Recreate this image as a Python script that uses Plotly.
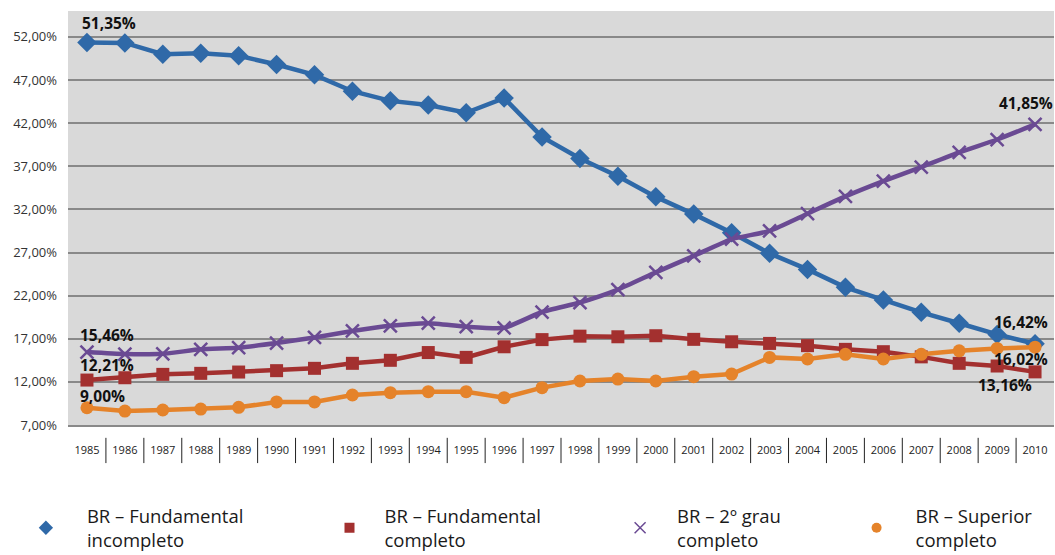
import plotly.graph_objects as go

years = [str(y) for y in range(1985, 2011)]

fund_incompleto = [51.35, 51.30, 50.00, 50.10, 49.80, 48.80, 47.60, 45.70, 44.58, 44.10,
                   43.20, 44.90, 40.40, 37.90, 35.85, 33.45, 31.45, 29.30, 26.90, 25.04,
                   22.96, 21.50, 20.06, 18.80, 17.50, 16.42]
fund_completo = [12.21, 12.48, 12.87, 12.99, 13.14, 13.30, 13.57, 14.15, 14.50, 15.40,
                 14.84, 16.07, 16.90, 17.30, 17.23, 17.35, 16.93, 16.65, 16.46, 16.20,
                 15.77, 15.50, 14.90, 14.15, 13.84, 13.16]
segundo_grau = [15.46, 15.23, 15.26, 15.77, 15.96, 16.50, 17.15, 17.90, 18.50, 18.80,
                18.40, 18.27, 20.10, 21.20, 22.70, 24.70, 26.60, 28.55, 29.50, 31.50,
                33.50, 35.27, 36.90, 38.60, 40.10, 41.85]
superior = [9.00, 8.62, 8.74, 8.85, 9.05, 9.67, 9.67, 10.48, 10.75, 10.86,
            10.86, 10.17, 11.33, 12.10, 12.33, 12.10, 12.60, 12.90, 14.84, 14.65,
            15.20, 14.65, 15.20, 15.60, 15.88, 16.02]

names = ["BR – Fundamental<br>incompleto", "BR – Fundamental<br>completo",
         "BR – 2º grau<br>completo", "BR – Superior<br>completo"]
ytickvals = [7, 12, 17, 22, 27, 32, 37, 42, 47, 52]

BLUE = "#2f69a8"
RED = "#a3302f"
PURPLE = "#6a4a93"
ORANGE = "#e5832a"

PCT = "&#37;"


def fmt(v):
    return f"{v:.2f}".replace(".", ",") + PCT


series = [
    (fund_incompleto, BLUE, "diamond", 15, "linear"),
    (fund_completo, RED, "square", 13, "linear"),
    (segundo_grau, PURPLE, "x-thin-open", 13, "spline"),
    (superior, ORANGE, "circle", 13, "linear"),
]

fig = go.Figure()
for vals, col, sym, sz, shape in series:
    mk = dict(symbol=sym, size=sz, color=col)
    if sym == "x-thin-open":
        mk["line"] = dict(color=col, width=2.5)
    fig.add_trace(go.Scatter(
        x=years, y=vals, mode="lines+markers",
        line=dict(color=col, width=4.5, shape=shape, smoothing=0.5),
        marker=mk, showlegend=False, hoverinfo="x+y"))

# legend-only entries (marker only), each in its own legend
legend_names = ["legend", "legend2", "legend3", "legend4"]
leg_syms = [("diamond", 11), ("square", 10), ("x-thin-open", 11), ("circle", 10)]
for (vals, col, _, _, _), nm, (sym, sz), lg in zip(series, names, leg_syms, legend_names):
    mk = dict(symbol=sym, size=sz, color=col)
    if sym == "x-thin-open":
        mk["line"] = dict(color=col, width=1.5)
    fig.add_trace(go.Scatter(x=[None], y=[None], mode="markers", marker=mk,
                             name=nm, showlegend=True, legend=lg))

label_font = dict(family="Open Sans", size=15.5, color="#111111")
labels = [
    (0, fund_incompleto[0], 22, 19),
    (0, segundo_grau[0], 20, 17),
    (0, fund_completo[0], 20, 15),
    (0, superior[0], 16, 12),
    (25, segundo_grau[25], -9, 21),
    (25, fund_incompleto[25], -14, 22),
    (25, superior[25], -14, -12),
    (25, fund_completo[25], -30, -13),
]
for idx, v, xs, ys in labels:
    fig.add_annotation(x=idx, y=v, xref="x", yref="y", text="<b>" + fmt(v) + "</b>",
                       showarrow=False, xshift=xs, yshift=ys, font=label_font)

# separators between year labels
for i in range(len(years) - 1):
    fig.add_shape(type="line", xref="x", yref="paper", x0=i + 0.5, x1=i + 0.5,
                  y0=-0.031, y1=-0.092, line=dict(color="#222222", width=1))

leg_x = [-0.0640, 0.2500, 0.5427, 0.7805]
leg_iw = [72, 60, 64, 68]
leg_common = dict(orientation="v", yanchor="top", xanchor="left", y=-0.1744,
                  bgcolor="rgba(0,0,0,0)",
                  font=dict(family="Open Sans", size=18.5, color="#1a1a1a"))

fig.update_layout(
    width=1055, height=555,
    margin=dict(l=68, r=1, t=11, b=130, autoexpand=False),
    paper_bgcolor="white", plot_bgcolor="#d9d9d9",
    xaxis=dict(type="category", range=[-0.5, 25.5], showgrid=False, zeroline=False,
               ticks="", ticklabelstandoff=14,
               tickfont=dict(family="Open Sans", size=11, color="#222222"),
               showline=True, linecolor="#898989", linewidth=2),
    yaxis=dict(range=[7, 55], tickvals=ytickvals, ticktext=[fmt(v) for v in ytickvals],
               showgrid=True, gridcolor="#898989", gridwidth=2, zeroline=False,
               ticks="", ticklabelstandoff=10,
               tickfont=dict(family="Open Sans", size=13, color="#333333")),
    legend=dict(x=leg_x[0], itemwidth=leg_iw[0], **leg_common),
    legend2=dict(x=leg_x[1], itemwidth=leg_iw[1], **leg_common),
    legend3=dict(x=leg_x[2], itemwidth=leg_iw[2], **leg_common),
    legend4=dict(x=leg_x[3], itemwidth=leg_iw[3], **leg_common),
)

fig.write_html("out.html", config={"displayModeBar": False},
               post_script="document.body.style.margin='0';")
